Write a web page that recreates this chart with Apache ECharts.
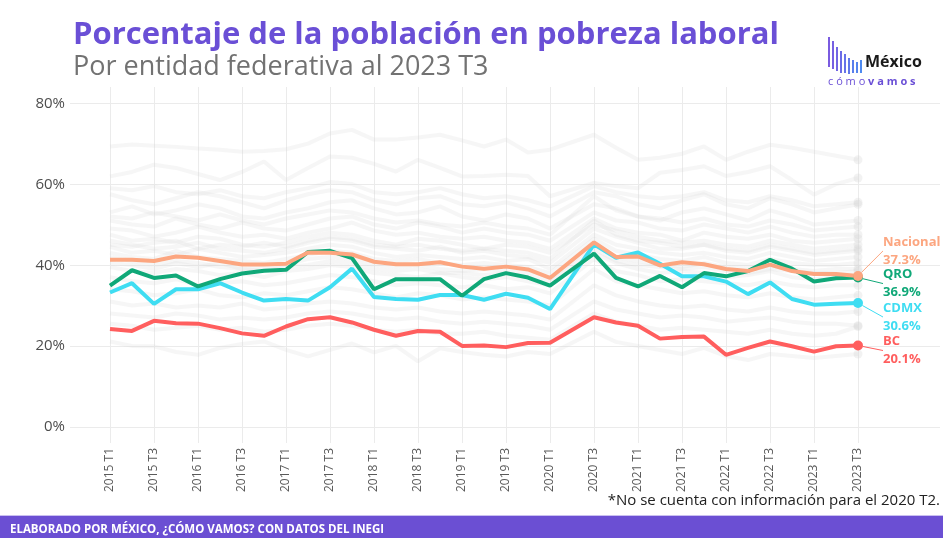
<!DOCTYPE html>
<html lang="es">
<head>
<meta charset="UTF-8">
<title>Porcentaje de la población en pobreza laboral</title>
<script src="https://cdn.jsdelivr.net/npm/echarts@6/dist/echarts.min.js"></script>
<style>
  body { margin: 0; padding: 0; background: #fff; }
  #chart { width: 943px; height: 538px; }
</style>
</head>
<body>
<div id="chart"></div>
<script>
// trimestres (2020 T2 sin dato)
const quarters = [
  '2015 T1','2015 T2','2015 T3','2015 T4','2016 T1','2016 T2','2016 T3','2016 T4',
  '2017 T1','2017 T2','2017 T3','2017 T4','2018 T1','2018 T2','2018 T3','2018 T4',
  '2019 T1','2019 T2','2019 T3','2019 T4','2020 T1','2020 T2','2020 T3','2020 T4',
  '2021 T1','2021 T2','2021 T3','2021 T4','2022 T1','2022 T2','2022 T3','2022 T4',
  '2023 T1','2023 T2','2023 T3'
];

const nacional = [41.3,41.3,41.0,42.1,41.8,41.0,40.1,40.1,40.3,43.1,43.0,42.6,40.8,40.2,40.2,40.7,39.6,39.1,39.6,38.9,36.8,null,45.6,42.0,42.1,39.9,40.7,40.2,39.0,38.5,40.1,38.5,37.8,37.8,37.3];
const qro = [34.9,38.7,36.8,37.4,34.7,36.5,37.9,38.6,38.8,43.2,43.5,41.7,34.0,36.5,36.5,36.5,32.4,36.5,38.0,36.9,34.9,null,42.8,36.8,34.7,37.3,34.5,38.0,37.2,38.5,41.3,39.1,35.9,36.7,36.9];
const cdmx = [33.2,35.5,30.4,34.0,34.0,35.5,33.2,31.2,31.6,31.2,34.5,39.1,32.1,31.6,31.4,32.6,32.6,31.4,32.9,31.9,29.1,null,45.1,41.8,43.1,40.3,37.2,37.2,35.9,32.8,35.7,31.6,30.2,30.4,30.6];
const bc = [24.2,23.7,26.2,25.6,25.5,24.4,23.1,22.5,24.8,26.6,27.1,25.8,24.0,22.5,23.7,23.5,20.0,20.1,19.7,20.7,20.8,null,27.1,25.8,25.0,21.8,22.2,22.3,17.8,19.5,21.1,19.9,18.6,19.9,20.1];

// resto de las entidades (fondo gris)
const otras = [
  [69.3,69.8,69.5,69.2,68.8,68.5,68.0,68.2,68.6,70.0,72.5,73.4,71.0,71.0,71.5,72.2,70.8,69.3,71.0,67.8,68.5,null,72.2,69.0,66.0,66.5,67.5,69.3,66.0,68.0,69.7,69.0,68.0,67.0,66.0],
  [61.9,63.0,64.8,64.0,62.5,61.0,63.0,65.6,61.0,64.0,66.8,66.5,65.0,63.1,66.0,64.0,61.9,62.0,62.3,62.0,57.0,null,60.3,59.5,59.0,62.8,63.5,64.4,62.0,63.0,64.4,61.0,57.4,60.0,61.5],
  [59.0,58.5,59.5,58.0,57.5,58.5,57.0,56.5,58.0,59.0,60.5,60.0,58.0,57.5,58.0,59.0,57.5,56.5,57.0,56.0,54.5,null,59.5,58.0,57.0,56.5,57.0,58.0,56.0,55.5,57.0,56.0,54.5,55.0,55.5],
  [57.5,56.0,55.0,56.5,58.0,57.0,55.5,54.0,56.0,57.5,58.5,58.0,56.0,55.0,56.5,57.0,55.0,54.5,55.5,54.0,52.0,null,58.0,57.0,55.0,54.0,56.0,57.5,55.0,54.0,56.5,55.0,53.0,54.0,55.0],
  [53.0,54.5,52.5,53.5,55.0,54.0,52.0,51.5,53.0,54.0,55.5,56.0,54.0,52.5,53.0,54.5,52.0,51.0,52.5,51.5,49.0,null,55.0,54.0,52.0,51.0,53.0,54.0,52.5,51.0,53.5,52.0,50.0,50.5,51.0],
  [52.0,51.5,53.0,52.0,51.0,52.5,51.0,50.0,51.5,52.5,53.5,53.0,51.5,50.5,51.0,50.0,49.5,50.5,49.5,49.0,47.5,null,57.0,53.5,52.0,51.5,50.5,51.5,50.0,49.5,51.0,50.0,48.5,49.0,49.5],
  [51.0,50.0,49.5,51.5,50.0,49.0,50.5,49.0,48.5,50.0,51.5,52.0,50.0,49.0,50.5,49.5,48.0,49.0,48.0,47.5,46.0,null,53.0,51.0,50.5,49.0,48.5,50.0,49.0,48.0,49.5,48.0,47.0,47.5,47.5],
  [49.0,48.5,47.0,48.0,49.5,48.0,47.0,47.5,46.5,48.0,49.0,50.5,48.5,47.5,48.0,47.0,46.5,47.0,46.0,45.5,44.0,null,51.5,49.0,48.0,47.5,46.0,48.0,47.0,46.5,47.5,46.0,45.5,46.0,46.5],
  [47.5,46.0,46.5,45.5,47.0,46.5,45.0,44.5,45.5,47.0,48.0,47.5,46.0,45.0,46.5,46.0,45.0,44.0,45.0,44.5,43.0,null,50.0,48.5,47.0,46.0,45.5,46.0,45.0,44.5,46.0,45.0,44.0,44.5,45.0],
  [46.0,45.0,44.0,44.5,45.5,44.0,43.5,43.0,44.0,45.5,46.5,46.0,44.5,44.0,43.5,44.5,43.0,43.5,42.5,42.0,40.5,null,49.0,47.0,45.5,44.0,44.0,45.0,43.5,43.0,44.5,43.5,42.5,43.0,43.5],
  [45.0,44.5,45.5,46.0,44.0,45.0,44.5,45.5,44.5,46.0,47.0,46.5,45.0,44.5,45.0,44.0,43.5,44.0,43.5,43.0,41.5,null,51.0,47.5,46.0,45.5,44.5,45.0,44.0,43.5,45.0,44.0,43.0,43.5,44.0],
  [44.5,43.0,43.5,42.5,44.0,43.0,42.0,42.5,43.0,44.0,45.0,44.5,43.0,42.0,42.5,42.0,41.5,42.0,41.0,41.5,39.0,null,47.5,45.0,44.0,43.0,42.5,43.0,42.0,41.5,43.0,42.0,41.0,41.5,42.0],
  [43.0,42.0,41.5,43.5,42.0,41.5,41.0,40.5,41.5,42.5,43.5,43.0,41.5,41.0,41.5,40.5,40.0,40.5,40.0,39.5,38.0,null,46.5,43.5,42.5,41.5,41.0,42.0,40.5,40.0,41.5,40.5,40.0,40.0,40.5],
  [42.0,41.0,40.0,41.0,40.5,39.5,39.0,39.5,40.0,41.5,42.0,41.5,40.0,39.5,40.0,39.0,38.5,39.0,38.5,38.0,36.5,null,45.0,42.0,41.0,40.0,39.5,40.5,39.5,39.0,40.0,39.0,38.5,39.0,39.0],
  [40.5,40.0,39.0,40.5,39.5,40.5,39.0,38.5,39.5,40.0,41.0,40.5,39.0,38.5,39.0,38.0,38.0,37.5,38.0,37.0,35.5,null,44.0,41.0,40.0,39.5,39.0,39.5,38.5,38.0,39.0,38.5,38.0,38.0,38.5],
  [39.5,38.5,38.0,39.0,38.5,37.5,38.0,37.0,38.5,39.0,40.0,39.5,38.0,37.5,37.0,38.0,37.0,36.5,37.0,36.0,35.0,null,43.0,40.5,39.0,38.0,38.5,38.0,37.0,37.5,38.5,37.0,36.5,37.0,37.5],
  [37.0,36.0,35.5,36.5,35.0,35.5,36.0,35.0,35.5,36.5,37.5,37.0,36.0,35.0,35.5,35.0,34.5,35.0,34.0,34.5,33.0,null,41.5,38.5,37.5,36.0,36.5,36.0,35.5,35.0,36.0,35.0,34.5,35.0,35.0],
  [34.0,33.5,32.5,33.0,34.0,32.5,32.0,33.0,32.5,33.5,34.5,34.0,33.0,32.0,33.0,32.5,31.5,32.0,31.5,31.0,30.0,null,39.0,36.0,35.0,34.0,33.0,33.5,32.5,32.0,33.0,32.0,31.5,32.0,32.5],
  [31.0,30.0,30.5,29.5,30.0,29.5,30.5,29.0,29.5,30.5,31.0,30.5,29.5,29.0,29.5,28.5,28.0,28.5,28.0,27.5,26.5,null,35.0,32.5,31.0,30.0,29.5,30.0,29.0,28.5,29.5,28.5,28.0,28.0,28.5],
  [28.0,27.5,27.0,28.0,27.5,26.5,27.0,26.5,27.0,28.0,28.5,28.0,27.0,26.5,27.0,26.0,25.5,26.0,25.5,25.0,24.0,null,31.0,29.0,28.0,27.0,27.5,27.0,26.0,26.5,27.0,26.0,25.5,25.5,25.0],
  [25.5,25.0,24.0,24.5,25.0,24.0,24.5,23.5,24.0,25.0,25.5,25.0,24.0,23.5,24.0,23.0,23.0,23.5,22.5,22.0,21.5,null,28.0,26.0,25.0,24.0,24.5,24.0,23.5,23.0,24.0,23.0,22.5,23.0,24.8],
  [21.1,20.0,19.9,18.5,17.8,19.5,20.5,21.1,19.0,17.4,19.0,20.6,18.4,20.0,16.2,19.4,18.5,17.8,17.4,18.5,18.0,null,23.5,21.0,20.0,19.0,18.0,19.5,17.5,16.5,18.0,17.5,17.0,17.5,18.0]
];

const yTicks = [0, 20, 40, 60, 80];

const chart = echarts.init(document.getElementById('chart'));
const FONT = 'Open Sans';

function grayLine(values) {
  const last = values.length - 1;
  return {
    type: 'line', xAxisIndex: 1, yAxisIndex: 1,
    data: values.map((v, i) => i === last ? { value: v, symbol: 'circle', symbolSize: 9 } : v),
    connectNulls: true, symbol: 'none', showSymbol: true,
    lineStyle: { color: '#d4d4d4', width: 4, opacity: 0.22 },
    itemStyle: { color: '#d4d4d4', opacity: 0.3 },
    silent: true, z: 2
  };
}

function mainLine(name, values, color, value, dx, dy) {
  const last = values.length - 1;
  return {
    name: name, type: 'line', xAxisIndex: 1, yAxisIndex: 1,
    data: values.map((v, i) => i !== last ? v : {
      value: v, symbol: 'circle', symbolSize: 10,
      label: {
        show: true, position: 'right', distance: 5,
        formatter: '{n|' + name + '}\n{v|' + value + '}',
        rich: {
          n: { color: color, fontFamily: FONT, fontWeight: 'bold', fontSize: 13, lineHeight: 18 },
          v: { color: color, fontFamily: FONT, fontWeight: 'bold', fontSize: 13, lineHeight: 18 }
        }
      }
    }),
    labelLine: { show: true, lineStyle: { color: color, width: 1 } },
    labelLayout: { dx: dx, dy: dy },
    connectNulls: true, symbol: 'none', showSymbol: true,
    lineStyle: { color: color, width: 4 },
    itemStyle: { color: color },
    z: 5
  };
}

const series = otras.map(grayLine).concat([
  mainLine('BC', bc, '#FF5E5E', '20.1%', 15, 5),
  mainLine('CDMX', cdmx, '#3FDDF2', '30.6%', 15, 14),
  mainLine('QRO', qro, '#10A878', '36.9%', 15, 6),
  mainLine('Nacional', nacional, '#FCA680', '37.3%', 15, -25)
]);

const option = {
  animation: false,
  title: {
    text: 'Porcentaje de la población en pobreza laboral',
    subtext: 'Por entidad federativa al 2023 T3',
    left: 68, top: 15, itemGap: 3,
    textStyle: { fontFamily: FONT, fontSize: 31, fontWeight: 'bold', color: '#6A4FD6' },
    subtextStyle: { fontFamily: FONT, fontSize: 27, color: '#727272' }
  },
  grid: [
    { left: 70, right: 3, top: 103.5, bottom: 111 },
    { left: 110, right: 85, top: 87, bottom: 95 }
  ],
  xAxis: [
    { gridIndex: 0, type: 'value', min: 0, max: 1, show: false },
    {
      gridIndex: 1, type: 'category', data: quarters, boundaryGap: false,
      axisLine: { show: false }, axisTick: { show: false },
      axisLabel: { interval: 1, rotate: 90, margin: 5, color: '#5a5a5a', fontFamily: FONT, fontSize: 12 },
      splitLine: { show: true, interval: 1, lineStyle: { color: '#ebebeb', width: 1 } }
    }
  ],
  yAxis: [
    {
      gridIndex: 0, type: 'value', min: yTicks[0], max: yTicks[yTicks.length - 1], interval: 20,
      axisLine: { show: false }, axisTick: { show: false },
      axisLabel: { formatter: '{value}%', color: '#4d4d4d', fontFamily: FONT, fontSize: 15, margin: 5 },
      splitLine: { lineStyle: { color: '#ebebeb', width: 1 } }
    },
    { gridIndex: 1, type: 'value', min: -4, max: 84, show: false }
  ],
  series: series,
  graphic: [
    // logo
    { type: 'group', left: 828, top: 37, children: [
      { type: 'rect', shape: { x: 0, y: 0, width: 2, height: 30 }, style: { fill: '#7A5BE0' } },
      { type: 'rect', shape: { x: 4, y: 4, width: 2, height: 28 }, style: { fill: '#7660E2' } },
      { type: 'rect', shape: { x: 8, y: 10, width: 2, height: 24 }, style: { fill: '#7266E4' } },
      { type: 'rect', shape: { x: 12, y: 14, width: 2, height: 22 }, style: { fill: '#6C6CE6' } },
      { type: 'rect', shape: { x: 16, y: 17, width: 2, height: 19 }, style: { fill: '#6672E8' } },
      { type: 'rect', shape: { x: 20, y: 21, width: 2, height: 16 }, style: { fill: '#6078EA' } },
      { type: 'rect', shape: { x: 24, y: 23, width: 2, height: 13 }, style: { fill: '#5A7EEC' } },
      { type: 'rect', shape: { x: 28, y: 25, width: 2, height: 11 }, style: { fill: '#5484EE' } },
      { type: 'rect', shape: { x: 32, y: 23, width: 2, height: 13 }, style: { fill: '#4E8AF0' } },
      { type: 'text', x: 37, y: 17, style: { text: 'México', fill: '#1a1a1a', font: 'bold 16px "Open Sans"' } },
      { type: 'text', x: 0, y: 39, style: {
        text: '{a|c ó m o }{b|v a m o s}',
        rich: {
          a: { fill: '#6A4FD6', font: '11px "Open Sans"' },
          b: { fill: '#6A4FD6', font: 'bold 11px "Open Sans"' }
        }
      } }
    ] },
    // nota
    { type: 'text', right: 3, top: 493, style: {
      text: '*No se cuenta con información para el 2020 T2.', fill: '#222', font: '15px "Open Sans"' } },
    // pie
    { type: 'rect', left: 0, top: 515, shape: { width: 943, height: 1 }, style: { fill: '#c9bff0' } },
    { type: 'rect', left: 0, top: 516, shape: { width: 943, height: 22 }, style: { fill: '#6B4FD3' } },
    { type: 'text', left: 10, top: 524, style: {
      text: 'ELABORADO POR MÉXICO, ¿CÓMO VAMOS? CON DATOS DEL INEGI', fill: '#fff', font: 'bold 11.5px "Open Sans"' } }
  ]
};

chart.setOption(option);
</script>
</body>
</html>
